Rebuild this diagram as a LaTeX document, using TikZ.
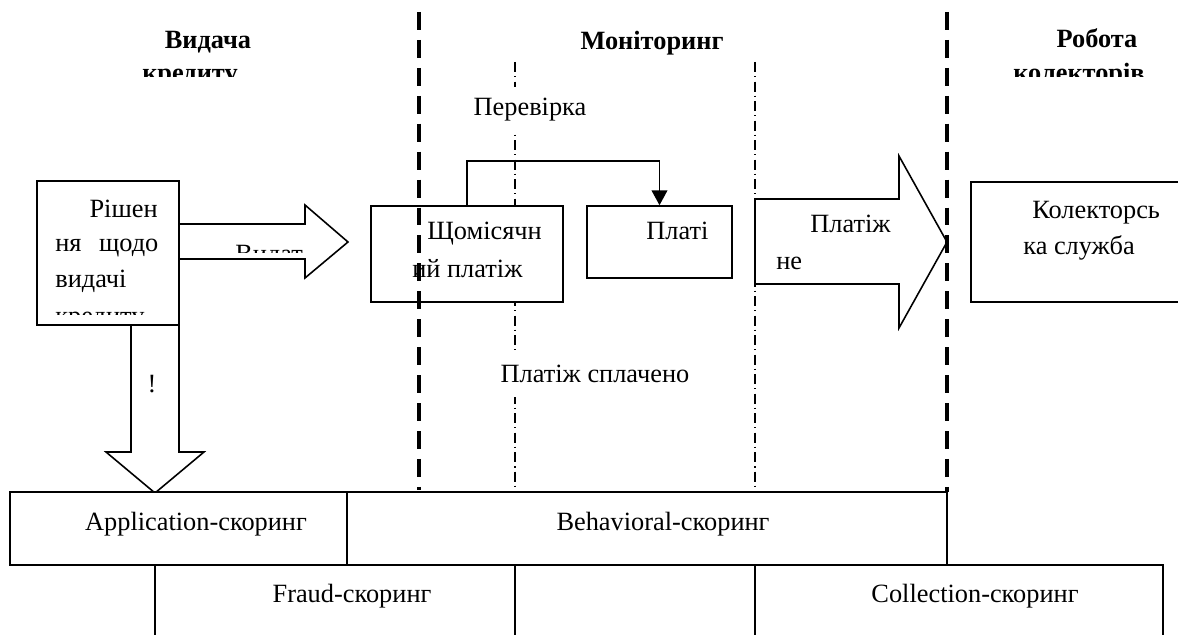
\documentclass[tikz,border=0pt]{standalone}
\usepackage{fontspec}
\setmainfont{Liberation Serif}
\usetikzlibrary{arrows.meta}
\tikzset{
  box/.style={draw, line width=0.9pt, fill=white, inner sep=0pt},
  blockarrow/.style={draw, line width=0.9pt, fill=white},
  lbl/.style={inner sep=0pt, anchor=base west},
  clbl/.style={inner sep=0pt, anchor=base},
  head/.style={font=\fontsize{15}{17}\selectfont\bfseries, inner sep=0pt, anchor=base},
  stageline/.style={line width=2.3pt, dash pattern=on 10.2pt off 5.7pt},
  dashdotline/.style={line width=0.6pt, dash pattern=on 5.7pt off 2.3pt on 0.8pt off 2.3pt},
  link/.style={line width=0.9pt, -{Triangle[length=8.5pt,width=9pt]}},
}
\begin{document}
\begin{tikzpicture}[x=0.02cm, y=-0.02cm, font=\fontsize{15}{17}\selectfont]
\useasboundingbox (0,0) rectangle (1178,635);

% headings
\node[head] (h1) at (208,49) {Видача};
\node[head] (h2) at (652,50) {Моніторинг};
\node[head] (h3) at (1097,48) {Робота};
\begin{scope}
  \clip (100,60) rectangle (1178,77);
  \node[head] (h1b) at (190,82) {кредиту};
  \node[head] (h3b) at (1079,82) {колекторів};
\end{scope}

% month borders
\draw[dashdotline] (515,62) -- (515,492);
\draw[dashdotline] (755,62) -- (755,492);

% boxes
\node[box, minimum width=2.84cm, minimum height=2.88cm] (decision) at (108,253) {};
\node[box, minimum width=3.84cm, minimum height=1.92cm] (monthly) at (467,254) {};
\node[box, minimum width=2.9cm, minimum height=1.44cm] (pay) at (659.5,242) {};
\node[box, minimum width=4.28cm, minimum height=2.4cm] (collector) at (1078,242) {};

% block arrows
\draw[blockarrow] (179,224) -- (305,224) -- (305,205) -- (348,242) -- (305,278) -- (305,259) -- (179,259) -- cycle;
\draw[blockarrow] (131,325) -- (131,452) -- (106,452) -- (155,493) -- (204,452) -- (179,452) -- (179,325) -- cycle;
\draw[blockarrow] (755,199) -- (899,199) -- (899,156) -- (947,242) -- (899,328) -- (899,284) -- (755,284) -- cycle;

% texts in boxes
\node[inner sep=0pt, anchor=base east] (d1) at (158,217) {Рішен};
\node[lbl] (d2) at (55,252) {\hbox to 2.06cm{ня\hfill щодо}};
\node[lbl] (d3) at (55,288) {видачі};
\begin{scope}
  \clip (40,300) rectangle (176,315);
  \node[lbl] (d4) at (55,324) {кредиту};
\end{scope}
\begin{scope}
  \clip (230,235) rectangle (303,253);
  \node[lbl] (issue) at (235,263) {Видат};
\end{scope}
\node[clbl] (mark) at (152,392) {!};
\node[lbl] (m1) at (427,240) {Щомісячн};
\node[lbl] (m2) at (412,277) {ий платіж};
\node[lbl] (p1) at (646,240) {Платі};
\node[lbl] (c1) at (1032,218) {Колекторсь};
\node[lbl] (c2) at (1023,255) {ка служба};
\node[lbl] (n1) at (810,233) {Платіж};
\node[lbl] (n2) at (776,270) {не};

% check
\node[fill=white, inner sep=0pt, minimum height=0.94cm] (check) at (530,110) {Перевірка};
\node[fill=white, inner sep=0pt, minimum height=0.94cm] (paid) at (595,374) {Платіж сплачено};
\coordinate (turn) at (0,161);
\draw[link] (monthly.north) -- (monthly.north |- turn) -| (pay.north);

% scoring
\node[box, minimum width=6.74cm, minimum height=1.46cm] (appl) at (178.5,528.5) {};
\node[box, minimum width=12cm, minimum height=1.46cm] (behav) at (647,528.5) {};
\node[box, minimum width=7.2cm, minimum height=1.6cm] (fraud) at (335,605) {};
\node[box, minimum width=4.8cm, minimum height=1.6cm] (gap) at (635,605) {};
\node[box, minimum width=8.16cm, minimum height=1.6cm] (coll) at (959,605) {};
\node[clbl] (appltxt) at (196,530) {Application-скоринг};
\node[clbl] (behavtxt) at (663,530) {Behavioral-скоринг};
\node[clbl] (fraudtxt) at (352,602) {Fraud-скоринг};
\node[clbl] (colltxt) at (975,602) {Collection-скоринг};

% stage borders
\draw[stageline] (419,12) -- (419,490);
\draw[stageline] (947,12) -- (947,492);
\end{tikzpicture}
\end{document}
